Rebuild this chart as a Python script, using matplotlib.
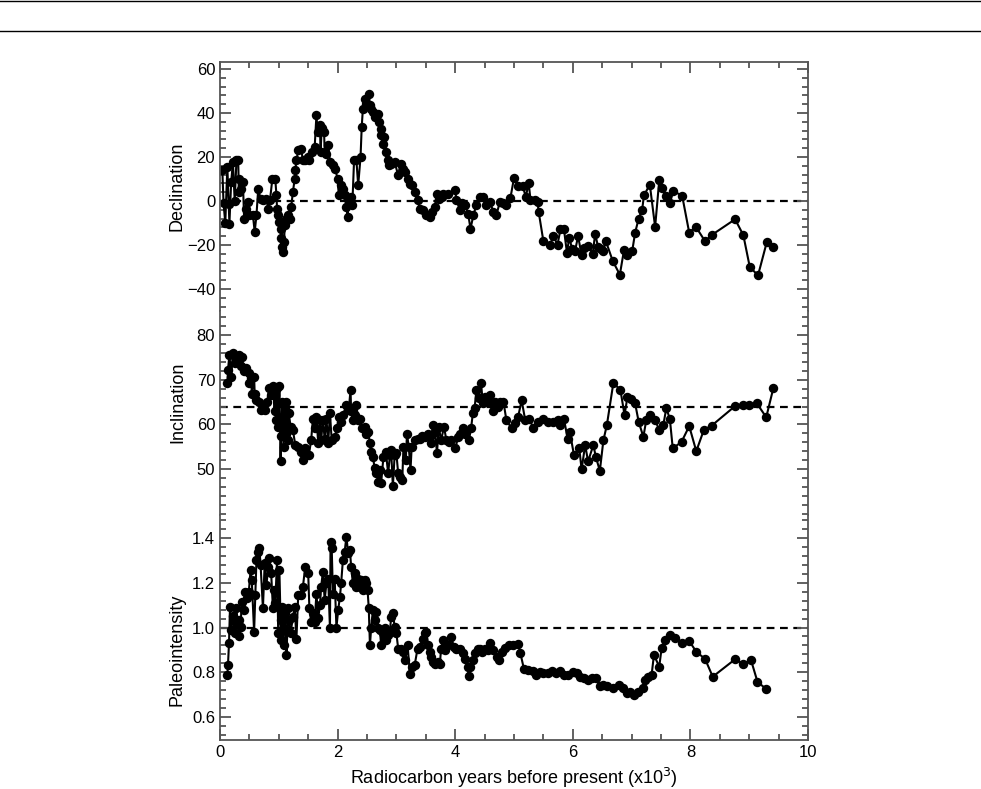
#!/usr/bin/env python3
"""
Палеомагнітна крива: схилення, нахилення, палеоінтенсивність
"""

import matplotlib
matplotlib.use("Agg")
import matplotlib.pyplot as plt
from matplotlib.ticker import MultipleLocator, FixedLocator
from matplotlib.lines import Line2D

# ---- дані, вік у тис. радіовуглецевих років ----
decl_age = [0.04, 0.06, 0.09, 0.125, 0.147, 0.16, 0.19, 0.22, 0.25, 0.28, 0.31, 0.32, 0.33,
            0.36, 0.39, 0.41, 0.45, 0.48, 0.50, 0.56, 0.59, 0.62, 0.65, 0.69, 0.73, 0.79,
            0.82, 0.85, 0.89, 0.94, 0.96, 0.97, 0.99, 1.01, 1.03, 1.04, 1.06, 1.07, 1.09,
            1.10, 1.13, 1.16, 1.19, 1.21, 1.24, 1.27, 1.28, 1.30, 1.33, 1.38, 1.41, 1.45,
            1.50, 1.52, 1.56, 1.61, 1.64, 1.66, 1.70, 1.71, 1.73, 1.77, 1.78, 1.81, 1.84,
            1.87, 1.92, 1.96, 2.00, 2.02, 2.05, 2.09, 2.12, 2.15, 2.17, 2.19, 2.22, 2.25,
            2.28, 2.32, 2.35, 2.39, 2.41, 2.43, 2.46, 2.49, 2.53, 2.55, 2.57, 2.60, 2.63,
            2.68, 2.70, 2.73, 2.74, 2.77, 2.79, 2.82, 2.85, 2.87, 2.91, 2.97, 3.03, 3.07,
            3.11, 3.14, 3.19, 3.23, 3.27, 3.31, 3.36, 3.40, 3.45, 3.51, 3.57, 3.61, 3.65,
            3.69, 3.72, 3.77, 3.80, 3.88, 4.00, 4.02, 4.08, 4.11, 4.17, 4.22, 4.26, 4.31,
            4.36, 4.42, 4.48, 4.53, 4.59, 4.65, 4.70, 4.76, 4.82, 4.87, 4.94, 5.00, 5.07,
            5.15, 5.20, 5.25, 5.28, 5.36, 5.40, 5.42, 5.50, 5.61, 5.67, 5.74, 5.79, 5.85,
            5.90, 5.94, 5.99, 6.04, 6.09, 6.15, 6.19, 6.26, 6.34, 6.38, 6.43, 6.48, 6.52,
            6.56, 6.68, 6.80, 6.87, 6.93, 7.01, 7.06, 7.12, 7.18, 7.21, 7.31, 7.40, 7.47,
            7.52, 7.58, 7.65, 7.71, 7.86, 7.98, 8.09, 8.25, 8.36, 8.76, 8.90, 9.01, 9.15,
            9.30, 9.41]
decl_val = [14, -1, -10, 15.5, -1.2, -10.3, 8.6, 17.7, 0, 18.5, 18.5, 4.1, 10,
            5.6, 8.6, -8, -3.5, -0.5, -6.5, -6.5, -14, -6.5, 5.6, 1, 0.3, 1,
            -3.5, 0.3, 10, 10, 2.6, -3.5, -6.5, -9.5, -12.5, -17, -20.9, -23.2, -18.6,
            -11, -8, -6.5, -8, -2.7, 4.1, 10, 13.9, 18.5, 23, 23.8, 18.5, 18.5,
            20, 18.5, 22.3, 24.5, 39, 31.4, 34.4, 22.3, 33, 31.4, 22.3, 21.5, 25.3,
            17.7, 16.2, 14.6, 10, 2.6, 7.1, 5.6, 2.6, -2.7, -7.3, -0.5, 1.8, -2,
            18.5, 18.5, 7.1, 20, 33.6, 42, 46.5, 44.2, 48.8, 43.5, 42, 40.5, 38.2,
            39.7, 35.9, 32.9, 29.8, 26, 29.1, 22.3, 18.5, 16.2, 17, 17.7, 11.7, 17,
            14.6, 13.1, 10, 7.9, 7.1, 4.1, 0.3, -3.5, -4.2, -6.5, -7.3, -5, -2.7,
            3.3, 1, 1.8, 3.3, 3.3, 5, 0.5, -4.2, -0.8, -1.7, -5.8, -12.6, -6.4,
            -1.8, 2, 2, -1.8, -0.3, -5, -6.5, -0.3, -1, -1.8, 1.5, 10.5, 6.8,
            6.8, 1.8, 8.3, 0.5, 0.5, -0.3, -5, -18.3, -20.1, -15.9, -19.8, -12.9, -12.9,
            -23.5, -16.6, -22, -22.5, -15.9, -24.7, -21.5, -20.3, -24, -14.8, -20.9, -21.7, -22.8,
            -18.1, -27.3, -33.5, -22.4, -24.4, -22.8, -14.4, -8, -3.9, 2.6, 7.4, -11.8, 9.4,
            5.9, 2.1, -1, 4.5, 2.4, -14.4, -11.6, -18.3, -15.5, -8.3, -15.5, -30, -33.8,
            -18.6, -20.9]

incl_age = [0.125, 0.136, 0.16, 0.19, 0.22, 0.25, 0.28, 0.32, 0.35, 0.37, 0.41, 0.45, 0.49,
            0.50, 0.53, 0.54, 0.58, 0.59, 0.62, 0.66, 0.69, 0.73, 0.76, 0.80, 0.84, 0.87,
            0.90, 0.93, 0.94, 0.96, 0.97, 0.99, 1.01, 1.03, 1.04, 1.06, 1.08, 1.10, 1.12,
            1.13, 1.16, 1.17, 1.20, 1.24, 1.28, 1.33, 1.37, 1.41, 1.45, 1.51, 1.55, 1.58,
            1.61, 1.64, 1.67, 1.70, 1.72, 1.75, 1.78, 1.81, 1.84, 1.87, 1.90, 1.95, 1.99,
            2.02, 2.06, 2.09, 2.15, 2.19, 2.22, 2.23, 2.26, 2.29, 2.32, 2.35, 2.38, 2.42,
            2.46, 2.49, 2.52, 2.55, 2.57, 2.60, 2.63, 2.66, 2.69, 2.72, 2.74, 2.78, 2.82,
            2.86, 2.89, 2.91, 2.94, 2.97, 3.00, 3.03, 3.06, 3.10, 3.12, 3.16, 3.18, 3.21,
            3.24, 3.26, 3.31, 3.36, 3.40, 3.44, 3.48, 3.53, 3.57, 3.59, 3.62, 3.66, 3.69,
            3.72, 3.76, 3.81, 3.85, 3.89, 3.93, 4.00, 4.05, 4.09, 4.13, 4.16, 4.19, 4.23,
            4.27, 4.30, 4.33, 4.36, 4.40, 4.44, 4.47, 4.51, 4.56, 4.60, 4.64, 4.68, 4.73,
            4.77, 4.82, 4.87, 4.96, 5.02, 5.07, 5.13, 5.19, 5.26, 5.33, 5.40, 5.49, 5.58,
            5.67, 5.74, 5.78, 5.85, 5.91, 5.95, 6.02, 6.11, 6.15, 6.21, 6.26, 6.35, 6.39,
            6.46, 6.52, 6.58, 6.69, 6.81, 6.88, 6.93, 6.99, 7.06, 7.12, 7.20, 7.25, 7.31,
            7.40, 7.47, 7.54, 7.59, 7.65, 7.70, 7.85, 7.98, 8.10, 8.23, 8.36, 8.76, 8.90,
            8.99, 9.13, 9.29, 9.41]
incl_val = [69.2, 72.2, 75.6, 70.7, 75.9, 73.7, 74.8, 75.6, 73, 75.2, 71.9, 72.6, 71.5,
            69.2, 70.4, 66.9, 70.7, 66.9, 65.4, 65.1, 63.2, 64.3, 63.2, 65.1, 68.1, 66.6,
            68.5, 62.9, 66.6, 61, 68.1, 59.5, 68.5, 51.9, 57.5, 65.1, 55, 63.6, 57.9,
            65.1, 56.4, 62.5, 59.5, 58.7, 55.4, 55, 53.9, 52, 54.6, 53.1, 56.4, 61.3,
            59.1, 61.7, 55.8, 61, 56.4, 61, 56.8, 61.3, 55.8, 62.5, 56.4, 57.1, 59.1,
            61.7, 60.6, 62.1, 64.3, 63.2, 67.8, 62.9, 61, 62.1, 64.3, 61, 61.3, 59.1,
            59.5, 57.9, 58.3, 55.8, 53.9, 52.8, 50.2, 49, 47.2, 49.8, 46.8, 52.8, 53.9,
            49, 53.1, 54.3, 46.1, 53.1, 53.5, 49, 48.3, 47.6, 55, 52, 57.9, 55,
            49.8, 55, 56.4, 56.8, 56.8, 57.5, 57.1, 57.9, 57.1, 55.8, 59.9, 58.3, 53.5,
            59.5, 56.4, 59.5, 56.4, 56.1, 56.4, 54.6, 57.1, 57.9, 59.1, 57.9, 58.3, 56.4,
            59.1, 62.5, 63.6, 67.7, 65.8, 69.2, 64.7, 66.2, 65.1, 66.6, 62.9, 65.1, 64,
            65.1, 65.1, 61, 59.1, 60.2, 61.7, 65.4, 61, 61.3, 59.1, 60.6, 61.3, 60.6,
            60.6, 61, 59.9, 61.3, 56.8, 58.3, 53.1, 54.6, 49.9, 55.4, 51.7, 55.4, 52.8,
            49.6, 56.4, 59.9, 69.3, 67.7, 62.1, 66.2, 65.6, 64.7, 60.6, 57.2, 61, 62.1,
            61, 58.7, 59.9, 63.6, 61.3, 54.6, 56.1, 59.6, 54, 58.8, 59.7, 64.1, 64.4,
            64.4, 64.7, 61.6, 68.1]

pint_age = [0.125, 0.136, 0.153, 0.17, 0.19, 0.22, 0.25, 0.28, 0.30, 0.32, 0.33, 0.35, 0.37,
            0.41, 0.43, 0.46, 0.49, 0.52, 0.54, 0.58, 0.60, 0.62, 0.65, 0.67, 0.69, 0.73,
            0.76, 0.79, 0.82, 0.84, 0.87, 0.90, 0.92, 0.94, 0.97, 0.99, 1.01, 1.03, 1.04,
            1.06, 1.08, 1.10, 1.12, 1.13, 1.16, 1.17, 1.20, 1.24, 1.27, 1.30, 1.33, 1.37,
            1.41, 1.45, 1.50, 1.52, 1.55, 1.58, 1.61, 1.64, 1.67, 1.70, 1.72, 1.75, 1.78,
            1.81, 1.84, 1.87, 1.88, 1.90, 1.92, 1.95, 1.98, 2.01, 2.04, 2.06, 2.09, 2.12,
            2.15, 2.18, 2.21, 2.23, 2.26, 2.29, 2.32, 2.35, 2.38, 2.40, 2.43, 2.46, 2.49,
            2.51, 2.53, 2.55, 2.57, 2.60, 2.63, 2.66, 2.69, 2.72, 2.74, 2.77, 2.80, 2.83,
            2.86, 2.89, 2.91, 2.94, 2.97, 3.00, 3.03, 3.07, 3.11, 3.15, 3.19, 3.23, 3.27,
            3.31, 3.36, 3.40, 3.45, 3.48, 3.51, 3.54, 3.57, 3.59, 3.62, 3.66, 3.71, 3.74,
            3.76, 3.79, 3.83, 3.88, 3.93, 3.98, 4.02, 4.08, 4.13, 4.17, 4.21, 4.23, 4.26,
            4.30, 4.33, 4.38, 4.42, 4.46, 4.50, 4.55, 4.59, 4.65, 4.71, 4.75, 4.79, 4.85,
            4.92, 4.99, 5.07, 5.11, 5.17, 5.24, 5.32, 5.37, 5.44, 5.50, 5.57, 5.64, 5.71,
            5.78, 5.85, 5.92, 6.00, 6.07, 6.12, 6.19, 6.25, 6.32, 6.39, 6.46, 6.52, 6.59,
            6.68, 6.79, 6.86, 6.92, 6.98, 7.04, 7.11, 7.19, 7.23, 7.28, 7.34, 7.38, 7.47,
            7.51, 7.57, 7.65, 7.74, 7.85, 7.98, 8.10, 8.25, 8.38, 8.76, 8.90, 9.03, 9.14,
            9.29]
pint_val = [0.788, 0.833, 0.93, 1.09, 0.99, 1.05, 0.974, 1.086, 1.018, 0.96, 1.033, 1.003, 1.115,
            1.078, 1.16, 1.13, 1.16, 1.257, 1.212, 0.98, 1.145, 1.301, 1.339, 1.354, 1.28, 1.086,
            1.287, 1.19, 1.272, 1.309, 1.242, 1.086, 1.167, 1.108, 1.301, 0.974, 1.257, 1.033, 0.943,
            1.093, 0.921, 1.063, 0.989, 0.877, 1.086, 1.033, 0.974, 1.048, 1.093, 0.95, 1.145, 1.145,
            1.182, 1.272, 1.242, 1.086, 1.026, 1.063, 1.026, 1.152, 1.041, 1.1, 1.182, 1.249, 1.123,
            1.197, 1.219, 0.996, 1.384, 1.354, 1.152, 1.219, 1.0, 1.078, 1.138, 1.197, 1.301, 1.339,
            1.406, 1.331, 1.346, 1.272, 1.197, 1.242, 1.182, 1.219, 1.182, 1.212, 1.167, 1.212, 1.197,
            1.167, 1.086, 0.92, 0.996, 1.078, 1.033, 1.07, 0.996, 0.989, 0.92, 0.974, 0.996, 0.943,
            0.966, 0.98, 1.048, 1.063, 1.003, 0.974, 0.906, 0.906, 0.891, 0.853, 0.921, 0.794, 0.824,
            0.831, 0.906, 0.913, 0.95, 0.974, 0.98, 0.921, 0.891, 0.869, 0.846, 0.839, 0.846, 0.839,
            0.906, 0.943, 0.898, 0.92, 0.958, 0.913, 0.906, 0.906, 0.884, 0.861, 0.824, 0.782, 0.824,
            0.853, 0.884, 0.906, 0.906, 0.891, 0.906, 0.898, 0.929, 0.899, 0.869, 0.854, 0.892, 0.907,
            0.922, 0.922, 0.927, 0.884, 0.813, 0.81, 0.807, 0.788, 0.803, 0.795, 0.798, 0.807, 0.795,
            0.807, 0.788, 0.788, 0.803, 0.795, 0.78, 0.773, 0.765, 0.773, 0.773, 0.739, 0.743, 0.739,
            0.728, 0.743, 0.728, 0.706, 0.713, 0.698, 0.713, 0.728, 0.765, 0.78, 0.788, 0.877, 0.825,
            0.907, 0.944, 0.966, 0.951, 0.932, 0.939, 0.892, 0.859, 0.78, 0.858, 0.837, 0.855, 0.758,
            0.724]

# опорні (середні) рівні — пунктир
decl_ref = 0.0
incl_ref = 63.8
pint_ref = 1.0

panels = [
    # (вік, значення, опорний рівень, підпис осі, межі y, великі поділки, малий крок, позиція підпису)
    (decl_age, decl_val, decl_ref, 'Declination', (-50, 63.2),
     [-40, -20, 0, 20, 40, 60], 4, 0.50),
    (incl_age, incl_val, incl_ref, 'Inclination', (39.7, 85.4),
     [50, 60, 70, 80], 2, 0.55),
    (pint_age, pint_val, pint_ref, 'Paleointensity', (0.497, 1.503),
     [0.6, 0.8, 1.0, 1.2, 1.4], 0.04, 0.40),
]


def main():
    plt.rcParams['font.family'] = ['Liberation Sans Narrow', 'Liberation Sans', 'DejaVu Sans']

    fig = plt.figure(figsize=(9.81, 7.89), dpi=100, facecolor='white')

    # лінії "шапки" сторінки
    for yy in (1 - 1.0 / 789, 1 - 31.0 / 789):
        fig.add_artist(Line2D([0, 1], [yy, yy], transform=fig.transFigure,
                              color='black', linewidth=1.0))

    left, width = 220 / 981, 588 / 981
    # межі панелей у пікселях (зверху вниз)
    bounds = [(62, 311), (311, 515), (515, 740)]
    frame_color = '#555555'

    axes = []
    for i, (panel, (top, bot)) in enumerate(zip(panels, bounds)):
        age, val, ref, label, ylim, majors, minor, lab_y = panel
        ax = fig.add_axes([left, (789 - bot) / 789, width, (bot - top) / 789])
        axes.append(ax)

        ax.axhline(ref, color='black', linestyle=(0, (3.5, 2.5)), linewidth=1.6, zorder=1)
        ax.plot(age, val, color='black', linewidth=1.5, marker='o',
                markersize=6.8, markeredgewidth=0, zorder=2)

        ax.set_xlim(0, 10)
        ax.set_ylim(*ylim)
        ax.yaxis.set_major_locator(FixedLocator(majors))
        ax.yaxis.set_minor_locator(MultipleLocator(minor))
        ax.xaxis.set_major_locator(MultipleLocator(2))
        ax.xaxis.set_minor_locator(MultipleLocator(0.5))
        if i == 2:
            ax.yaxis.set_major_formatter(plt.FuncFormatter(lambda v, p: f'{v:.1f}'))
        else:
            ax.yaxis.set_major_formatter(plt.FuncFormatter(lambda v, p: f'{v:.0f}'.replace('-', '\u2212')))

        ax.set_ylabel(label, fontsize=13)
        ax.yaxis.set_label_coords(-0.058, lab_y)

        for sp in ax.spines.values():
            sp.set_color(frame_color)
            sp.set_linewidth(1.3)
        ax.spines['top'].set_visible(i == 0)
        ax.spines['bottom'].set_visible(i == 2)

        ax.tick_params(axis='y', which='both', direction='in', left=True, right=True,
                       color=frame_color, width=1.3, labelsize=12)
        ax.tick_params(axis='y', which='major', length=8)
        ax.tick_params(axis='y', which='minor', length=4)
        ax.tick_params(axis='x', which='both', direction='in', color=frame_color, width=1.3,
                       top=(i == 0), bottom=(i == 2), labelbottom=(i == 2), labelsize=12)
        ax.tick_params(axis='x', which='major', length=8)
        ax.tick_params(axis='x', which='minor', length=4)

    axes[2].set_xlabel('Radiocarbon years before present (x10$^3$)', fontsize=13, labelpad=4)

    plt.savefig('out.png', dpi=100, facecolor='white')
    plt.close()


if __name__ == "__main__":
    main()
